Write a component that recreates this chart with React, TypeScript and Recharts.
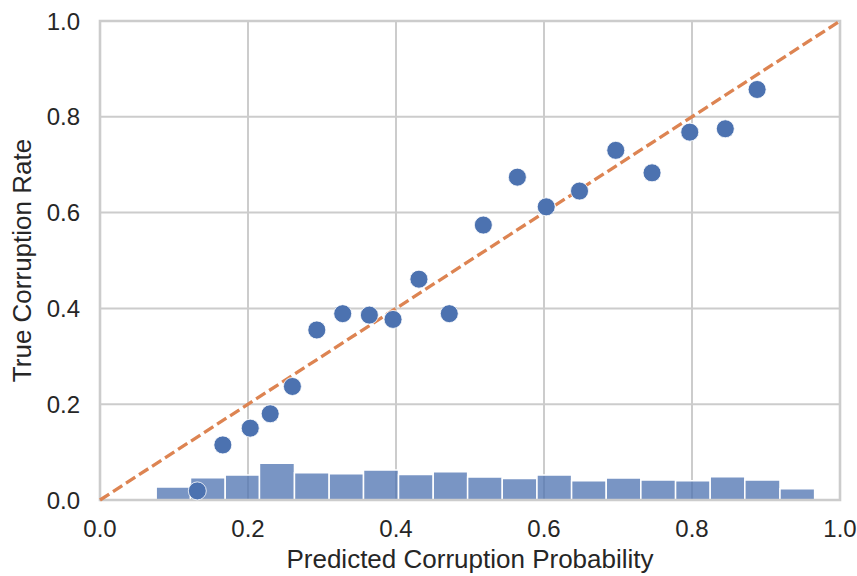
import React from 'react';
import {
  ComposedChart,
  Scatter,
  XAxis,
  YAxis,
  CartesianGrid,
  ReferenceArea,
  ReferenceLine,
} from 'recharts';

// calibration points: mean predicted probability vs observed rate
const predicted = [
  0.1315, 0.166, 0.203, 0.23, 0.26, 0.293, 0.328, 0.364, 0.396, 0.431,
  0.472, 0.518, 0.564, 0.603, 0.648, 0.697, 0.746, 0.797, 0.845, 0.888,
];
const trueRate = [
  0.019, 0.115, 0.15, 0.18, 0.237, 0.355, 0.389, 0.386, 0.377, 0.461,
  0.389, 0.574, 0.674, 0.612, 0.645, 0.73, 0.683, 0.768, 0.775, 0.857,
];

// histogram of predictions (scaled density)
const binEdges = [
  0.0286, 0.0759, 0.1223, 0.1692, 0.2155, 0.2628, 0.3097, 0.3561, 0.4034, 0.4503,
  0.4968, 0.5436, 0.5905, 0.6373, 0.6841, 0.7309, 0.7778, 0.8246, 0.8714, 0.9189,
  0.9657,
];
const binHeights = [
  0.0015, 0.027, 0.0466, 0.052, 0.0766, 0.057, 0.055, 0.0626, 0.053, 0.059,
  0.048, 0.045, 0.052, 0.04, 0.046, 0.042, 0.04, 0.0487, 0.042, 0.0236,
];

const ticks = [0, 0.2, 0.4, 0.6, 0.8, 1.0];

const BLUE = '#4c72b0';
const ORANGE = '#dd8452';
const GRID = '#cccccc';
const TEXT = '#262626';
const FONT = '"Liberation Sans", Arial, sans-serif';

const scatterData = predicted.map((x, i) => ({ x, y: trueRate[i] }));

const Dot = (props: any) => (
  <circle cx={props.cx} cy={props.cy} r={9} fill={BLUE} stroke="#ffffff" strokeWidth={0.8} />
);

export default function App() {
  return (
    <div style={{ position: 'absolute', left: 0, top: 0, fontFamily: FONT }}>
      <ComposedChart
        width={857}
        height={576}
        margin={{ top: 21, right: 17, bottom: 6, left: 0 }}
      >
        <CartesianGrid stroke={GRID} strokeWidth={2} />
        <XAxis
          type="number"
          dataKey="x"
          domain={[0, 1]}
          ticks={ticks}
          tickFormatter={(v) => v.toFixed(1)}
          height={70}
          axisLine={false}
          tickLine={false}
          tickSize={0}
          tickMargin={20}
          tick={{ fill: TEXT, fontSize: 24, fontFamily: FONT }}
          label={{
            value: 'Predicted Corruption Probability',
            position: 'insideBottom',
            offset: 2,
            fill: TEXT,
            fontSize: 26,
            fontFamily: FONT,
          }}
        />
        <YAxis
          type="number"
          dataKey="y"
          domain={[0, 1]}
          ticks={ticks}
          tickFormatter={(v) => v.toFixed(1)}
          width={100}
          axisLine={false}
          tickLine={false}
          tickSize={0}
          tickMargin={20}
          tick={{ fill: TEXT, fontSize: 24, fontFamily: FONT }}
          label={{
            value: 'True Corruption Rate',
            angle: -90,
            position: 'insideLeft',
            offset: 22,
            fill: TEXT,
            fontSize: 26,
            fontFamily: FONT,
            style: { textAnchor: 'middle' },
          }}
        />
        <ReferenceLine
          segment={[{ x: 0, y: 0 }, { x: 1, y: 1 }]}
          stroke={ORANGE}
          strokeWidth={3.3}
          strokeDasharray="11 4.5"
        />
        <Scatter data={scatterData} fill={BLUE} shape={<Dot />} isAnimationActive={false} />
        {binHeights.map((h, i) => (
          <ReferenceArea
            key={`bin-${i}`}
            x1={binEdges[i]}
            x2={binEdges[i + 1]}
            y1={0}
            y2={h}
            fill={BLUE}
            fillOpacity={0.75}
            stroke="#ffffff"
            strokeWidth={1.5}
            strokeOpacity={1}
          />
        ))}
        <ReferenceArea
          x1={0}
          x2={1}
          y1={0}
          y2={1}
          fill="none"
          stroke={GRID}
          strokeWidth={2.6}
          strokeOpacity={1}
        />
      </ComposedChart>
    </div>
  );
}
